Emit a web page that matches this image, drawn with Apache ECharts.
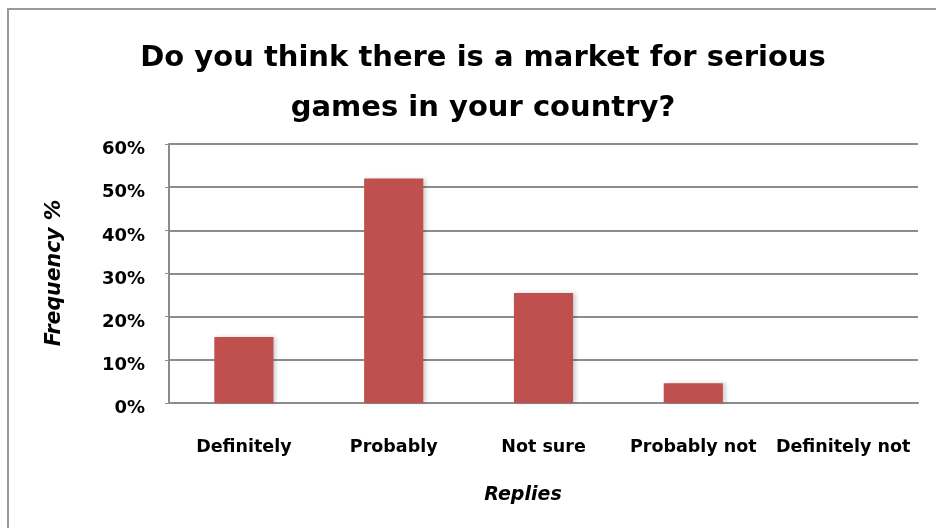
<!DOCTYPE html>
<html>
<head>
<meta charset="utf-8">
<script src="https://cdn.jsdelivr.net/npm/echarts@6/dist/echarts.min.js"></script>
<style>
  html, body { margin: 0; padding: 0; background: #fff; }
  #chart { width: 936px; height: 528px; }
</style>
</head>
<body>
<div id="chart"></div>
<script>
// Survey replies and their share of respondents (%)
const categories = ['Definitely', 'Probably', 'Not sure', 'Probably not', 'Definitely not'];
const frequency = [15.3, 52.0, 25.5, 4.6, 0];
const yTicks = [0, 10, 20, 30, 40, 50, 60];

const titleLines = ['Do you think there is a market for serious', 'games in your country?'];
const xName = 'Replies';
const yName = 'Frequency %';

const FONT = '"DejaVu Sans", sans-serif';
const GRID_GRAY = '#8c8c8c';
const chart = echarts.init(document.getElementById('chart'), null, { renderer: 'canvas' });

chart.setOption({
  backgroundColor: '#ffffff',
  animation: false,
  title: {
    text: titleLines.join('\n'),
    left: 478,
    top: 28,
    textAlign: 'center',
    textStyle: {
      fontFamily: FONT,
      fontWeight: 'bold',
      fontSize: 29,
      lineHeight: 50,
      color: '#000'
    }
  },
  grid: { left: 169, right: 18, top: 144, bottom: 125, containLabel: false },
  xAxis: {
    type: 'category',
    data: categories,
    axisLine: { show: true, lineStyle: { color: GRID_GRAY, width: 2 } },
    axisTick: { show: false },
    axisLabel: {
      margin: 35,
      interval: 0,
      fontFamily: FONT,
      fontWeight: 'bold',
      fontSize: 17.5,
      color: '#000'
    }
  },
  yAxis: {
    type: 'value',
    min: yTicks[0],
    max: yTicks[yTicks.length - 1],
    interval: 10,
    axisLine: { show: true, lineStyle: { color: GRID_GRAY, width: 2 } },
    axisTick: { show: true, length: 4, lineStyle: { color: GRID_GRAY } },
    splitLine: { show: true, lineStyle: { color: GRID_GRAY, width: 2 } },
    axisLabel: {
      margin: 24,
      verticalAlign: 'top',
      lineHeight: 11,
      fontFamily: FONT,
      fontWeight: 'bold',
      fontSize: 18,
      color: '#000',
      formatter: v => v + '%'
    }
  },
  series: [{
    type: 'bar',
    data: frequency,
    barWidth: '39.5%',
    itemStyle: {
      color: '#c0504d',
      shadowColor: 'rgba(0,0,0,0.18)',
      shadowBlur: 4,
      shadowOffsetX: 3,
      shadowOffsetY: 0
    }
  }],
  graphic: [
    {
      type: 'rect',
      shape: { x: 8, y: 9, width: 1200, height: 1000 },
      style: { fill: 'none', stroke: '#9a9a9a', lineWidth: 2 },
      silent: true
    },
    {
      type: 'text',
      x: 523,
      y: 495,
      style: {
        text: xName,
        fontFamily: FONT,
        fontWeight: 'bold',
        fontStyle: 'italic',
        fontSize: 19,
        fill: '#000',
        align: 'center',
        verticalAlign: 'middle'
      }
    },
    {
      type: 'text',
      x: 55,
      y: 273,
      rotation: Math.PI / 2,
      style: {
        text: yName,
        fontFamily: FONT,
        fontWeight: 'bold',
        fontStyle: 'italic',
        fontSize: 20.5,
        fill: '#000',
        align: 'center',
        verticalAlign: 'middle'
      }
    }
  ]
});
</script>
</body>
</html>
